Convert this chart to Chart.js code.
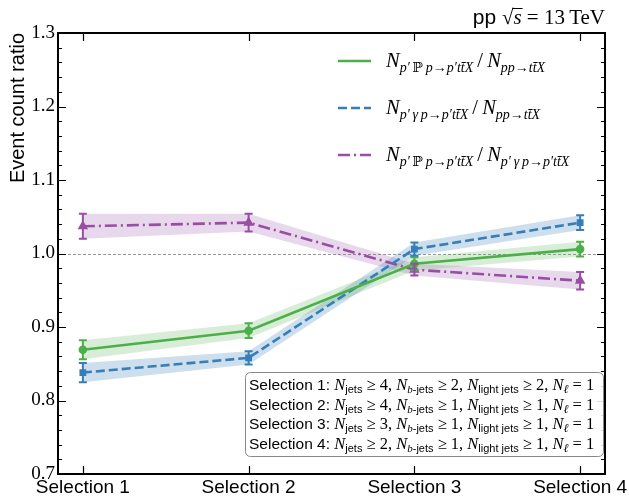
<!DOCTYPE html>
<html>
<head>
<meta charset="utf-8">
<script src="https://cdn.jsdelivr.net/npm/chart.js@4"></script>
<style>
  html, body { margin: 0; background: #fff; }
  #wrap { width: 629px; height: 499px; }
</style>
</head>
<body>
<div id="wrap"><canvas id="chart"></canvas></div>
<script>
// values
const categories = ["Selection 1", "Selection 2", "Selection 3", "Selection 4"];
const pomeronOverSm = [0.869, 0.895, 0.986, 1.006];
const pomeronOverSmErr = [0.013, 0.010, 0.009, 0.010];
const photonOverSm = [0.838, 0.858, 1.006, 1.042];
const photonOverSmErr = [0.013, 0.009, 0.009, 0.010];
const pomeronOverPhoton = [1.037, 1.042, 0.978, 0.963];
const pomeronOverPhotonErr = [0.017, 0.012, 0.008, 0.012];
const yTicks = [0.7, 0.8, 0.9, 1.0, 1.1, 1.2, 1.3];

const GREEN = "#4daf4a", BLUE = "#377eb8", PURPLE = "#984ea3";

const it = s => `italic ${s}px "Liberation Serif", "DejaVu Serif", serif`;
const rm = s => `${s}px "Liberation Serif", "DejaVu Serif", serif`;
const sf = s => `${s}px "Liberation Sans", Arial, sans-serif`;

const series = [
  { vals: pomeronOverSm, errs: pomeronOverSmErr, color: GREEN, band: "rgba(77,175,74,0.22)", dash: [], point: "circle", r: 3 },
  { vals: photonOverSm, errs: photonOverSmErr, color: BLUE, band: "rgba(55,126,184,0.25)", dash: [9, 4], point: "rect", r: 3 },
  { vals: pomeronOverPhoton, errs: pomeronOverPhotonErr, color: PURPLE, band: "rgba(152,78,163,0.22)", dash: [12, 4, 2, 4], point: "triangle", r: 3.5 }
];

const datasets = [];
series.forEach(s => {
  datasets.push({
    data: s.vals.map((v, i) => ({ x: i, y: v - s.errs[i] })),
    borderWidth: 0, pointRadius: 0, fill: false, order: 10
  });
  datasets.push({
    data: s.vals.map((v, i) => ({ x: i, y: v + s.errs[i] })),
    borderWidth: 0, pointRadius: 0, fill: "-1", backgroundColor: s.band, order: 10
  });
});
series.forEach((s, k) => {
  datasets.push({
    data: s.vals.map((v, i) => ({ x: i, y: v })),
    borderColor: s.color, backgroundColor: s.color, borderWidth: 2.6,
    borderDash: s.dash, pointStyle: s.point, pointRadius: s.r,
    fill: false, tension: 0, order: 1, isMain: true, idx: k
  });
});

// ---- helpers for the math-ish text ----
function drawRich(ctx, x, y, parts) {
  for (const [t, f, dy] of parts) {
    ctx.font = f;
    ctx.fillText(t, x, y + (dy || 0));
    x += ctx.measureText(t).width;
  }
  return x;
}
function richWidth(ctx, parts) {
  let w = 0;
  for (const [t, f] of parts) { ctx.font = f; w += ctx.measureText(t).width; }
  return w;
}

const B = 20.5, S = 14, D = 5;
const subPomeron = [["p′", it(S), D], ["\u2009ℙ\u2009", rm(S), D], ["p", it(S), D], ["→", rm(S), D], ["p′tt\u0304X", it(S), D]];
const subPhoton = [["p′", it(S), D], ["\u2009γ\u2009", it(S), D], ["p", it(S), D], ["→", rm(S), D], ["p′tt\u0304X", it(S), D]];
const subSm = [["pp", it(S), D], ["→", rm(S), D], ["tt\u0304X", it(S), D]];
const legendTexts = [
  [["N", it(B)], ...subPomeron, ["\u2009/\u2009", rm(B)], ["N", it(B)], ...subSm],
  [["N", it(B)], ...subPhoton, ["\u2009/\u2009", rm(B)], ["N", it(B)], ...subSm],
  [["N", it(B)], ...subPomeron, ["\u2009/\u2009", rm(B)], ["N", it(B)], ...subPhoton]
];

const selectionCuts = [
  ["4", "2", "2"],
  ["4", "1", "1"],
  ["3", "1", "1"],
  ["2", "1", "1"]
];

const framePlugin = {
  id: "frame",
  beforeDatasetsDraw(chart) {
    const { ctx, chartArea: a, scales: { y } } = chart;
    const py = Math.round(y.getPixelForValue(1.0)) + 0.5;
    ctx.save();
    ctx.strokeStyle = "#999";
    ctx.lineWidth = 1;
    ctx.setLineDash([3, 2]);
    ctx.beginPath(); ctx.moveTo(a.left, py); ctx.lineTo(a.right, py); ctx.stroke();
    ctx.restore();
  },
  afterDatasetsDraw(chart) {
    const { ctx, scales: { x, y } } = chart;
    ctx.save();
    series.forEach(s => {
      ctx.strokeStyle = s.color;
      ctx.lineWidth = 2;
      s.vals.forEach((v, i) => {
        const px = x.getPixelForValue(i);
        const lo = y.getPixelForValue(v - s.errs[i]);
        const hi = y.getPixelForValue(v + s.errs[i]);
        ctx.beginPath();
        ctx.moveTo(px, lo); ctx.lineTo(px, hi);
        ctx.moveTo(px - 4, lo); ctx.lineTo(px + 4, lo);
        ctx.moveTo(px - 4, hi); ctx.lineTo(px + 4, hi);
        ctx.stroke();
      });
    });
    ctx.restore();
  },
  afterDraw(chart) {
    const { ctx, chartArea: a, scales: { x, y } } = chart;
    ctx.save();
    // ticks, inward on all four sides
    ctx.strokeStyle = "#000";
    ctx.lineWidth = 1.2;
    ctx.beginPath();
    for (let i = 0; i <= 30; i++) {
      const py = Math.round(y.getPixelForValue(0.7 + i * 0.02)) + 0.5;
      const len = i % 5 === 0 ? 8 : 4;
      ctx.moveTo(a.left, py); ctx.lineTo(a.left + len, py);
      ctx.moveTo(a.right, py); ctx.lineTo(a.right - len, py);
    }
    categories.forEach((c, i) => {
      const px = Math.round(x.getPixelForValue(i)) + 0.5;
      ctx.moveTo(px, a.bottom); ctx.lineTo(px, a.bottom - 8);
      ctx.moveTo(px, a.top); ctx.lineTo(px, a.top + 8);
    });
    ctx.stroke();
    ctx.lineWidth = 2;
    ctx.strokeRect(a.left, a.top, a.right - a.left, a.bottom - a.top);

    // title
    ctx.fillStyle = "#000";
    ctx.textBaseline = "alphabetic";
    const T = 21;
    const title = [["pp ", sf(T)], ["√", rm(T)], ["s", it(T)], [" = 13\u2009TeV", rm(T)]];
    const tx = a.right - richWidth(ctx, title);
    ctx.font = sf(T);
    const sx = tx + ctx.measureText("pp ").width;
    ctx.font = rm(T);
    const sx2 = sx + ctx.measureText("√").width;
    ctx.font = it(T);
    const sx3 = sx2 + ctx.measureText("s").width;
    drawRich(ctx, tx, 24, title);
    ctx.lineWidth = 1;
    ctx.beginPath(); ctx.moveTo(sx2 - 1, 8.5); ctx.lineTo(sx3 + 1, 8.5); ctx.stroke();

    // legend
    const mains = chart.data.datasets.filter(d => d.isMain);
    mains.forEach((d, k) => {
      const ly = 61 + k * 47;
      ctx.strokeStyle = d.borderColor;
      ctx.lineWidth = 2.6;
      ctx.setLineDash(d.borderDash);
      ctx.beginPath(); ctx.moveTo(338, ly); ctx.lineTo(371, ly); ctx.stroke();
      ctx.setLineDash([]);
      ctx.fillStyle = "#000";
      drawRich(ctx, 386, ly + 6, legendTexts[k]);
    });

    // selection box
    const bx = 245, by = 372, bw = 358, bh = 84;
    ctx.fillStyle = "rgba(255,255,255,0.85)";
    ctx.strokeStyle = "#888";
    ctx.lineWidth = 1;
    ctx.beginPath(); ctx.roundRect(bx + 0.5, by + 0.5, bw, bh, 5); ctx.fill(); ctx.stroke();
    ctx.fillStyle = "#000";
    const m = 16.5, sb = 11, sd = 3;
    selectionCuts.forEach((cut, i) => {
      const ly = 390 + i * 19.6;
      drawRich(ctx, 249, ly, [
        [`Selection ${i + 1}: `, sf(15.5)],
        ["N", it(m)], ["jets", sf(sb), sd], [` ≥ ${cut[0]}, `, rm(m)],
        ["N", it(m)], ["b", it(sb), sd], ["-jets", sf(sb), sd], [` ≥ ${cut[1]}, `, rm(m)],
        ["N", it(m)], ["light jets", sf(sb), sd], [` ≥ ${cut[2]}, `, rm(m)],
        ["N", it(m)], ["ℓ", it(sb + 1), sd], [" = 1", rm(m)]
      ]);
    });
    ctx.restore();
  }
};

new Chart(document.getElementById("chart"), {
  type: "line",
  data: { datasets },
  options: {
    responsive: true,
    maintainAspectRatio: false,
    animation: false,
    devicePixelRatio: 1,
    layout: { padding: { top: 33, right: 24, left: 0, bottom: 0 } },
    plugins: {
      legend: { display: false },
      tooltip: { enabled: false },
      filler: { propagate: false }
    },
    scales: {
      x: {
        type: "linear",
        min: -0.15, max: 3.15,
        grid: { display: false, drawTicks: false },
        border: { display: false },
        afterBuildTicks: s => { s.ticks = categories.map((c, i) => ({ value: i })); },
        afterFit: s => { s.height = 25; s.paddingLeft = 0; s.paddingRight = 0; },
        ticks: {
          maxRotation: 0, autoSkip: false, padding: 2, color: "#000",
          font: { family: '"Liberation Sans", Arial, sans-serif', size: 19 },
          callback: v => categories[v] ?? ""
        }
      },
      y: {
        min: 0.7, max: 1.3,
        grid: { display: false, drawTicks: false },
        border: { display: false },
        afterBuildTicks: s => { s.ticks = yTicks.map(v => ({ value: v })); },
        afterFit: s => { s.width = 58; s.paddingTop = 0; s.paddingBottom = 0; },
        ticks: {
          padding: 3, color: "#000",
          font: { family: '"Liberation Serif", "DejaVu Serif", serif', size: 19 },
          callback: v => v.toFixed(1)
        },
        title: {
          display: true, text: "Event count ratio", align: "end", color: "#000",
          font: { family: '"Liberation Sans", Arial, sans-serif', size: 20 },
          padding: { top: 6, bottom: 0 }
        }
      }
    }
  },
  plugins: [framePlugin]
});
</script>
</body>
</html>
